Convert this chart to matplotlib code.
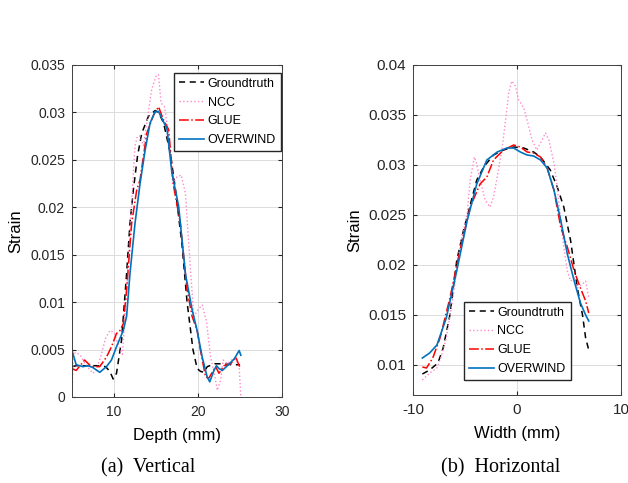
#!/usr/bin/env python3
"""Strain profiles: vertical and horizontal cuts, four methods."""

import matplotlib
matplotlib.use('Agg')
import matplotlib.pyplot as plt

# (a) Vertical profile, depth in mm
gt_depth = [5.0, 5.5, 6.0, 7.0, 8.0, 9.0, 9.5, 9.9, 10.3, 10.9, 11.5, 11.9, 12.3,
            12.8, 13.3, 14.1, 14.9, 15.3, 15.9, 16.7, 17.3, 18.1, 18.7, 19.4,
            19.9, 20.3, 20.7, 21.1, 22.0, 23.0, 24.0, 25.0]
gt_vert = [0.0032, 0.0033, 0.0033, 0.0033, 0.0033, 0.0032, 0.0027, 0.0019, 0.0025,
           0.0060, 0.0130, 0.0183, 0.0218, 0.0254, 0.0278, 0.0296, 0.0302, 0.0300,
           0.0289, 0.0257, 0.0220, 0.0160, 0.0100, 0.0050, 0.0030, 0.0027, 0.0026,
           0.0032, 0.0035, 0.0035, 0.0034, 0.0034]

ncc_depth = [5.0, 5.15, 5.5, 6.0, 6.5, 7.0, 7.5, 8.0, 8.5, 9.0, 9.5, 10.0, 10.5,
             11.0, 11.5, 12.0, 12.5, 12.8, 13.1, 13.5, 14.0, 14.5, 15.0, 15.3,
             15.6, 16.0, 16.3, 16.5, 17.0, 17.5, 18.0, 18.5, 19.0, 19.5, 20.0,
             20.5, 21.0, 21.5, 22.0, 22.3, 22.7, 23.0, 23.5, 24.0, 24.5, 24.9, 25.1]
ncc_vert = [0.0, 0.0045, 0.0047, 0.0044, 0.0036, 0.0030, 0.0025, 0.0031, 0.0045,
            0.0062, 0.0070, 0.0068, 0.0055, 0.0045, 0.0110, 0.0190, 0.0265, 0.0275,
            0.0275, 0.0265, 0.0295, 0.0325, 0.0338, 0.0340, 0.0310, 0.0306, 0.0289,
            0.0275, 0.0225, 0.0232, 0.0234, 0.0215, 0.0148, 0.0085, 0.0092, 0.0097,
            0.0080, 0.0042, 0.0022, 0.0007, 0.0018, 0.0039, 0.0035, 0.0039, 0.0040,
            0.0032, 0.0]

glue_depth = [5.0, 5.5, 6.5, 7.3, 8.3, 9.1, 9.7, 10.3, 10.7, 11.1, 11.5, 12.1,
              12.7, 13.1, 13.9, 14.7, 15.3, 15.9, 16.5, 17.1, 17.9, 18.7, 19.3,
              19.9, 20.3, 20.9, 21.3, 21.7, 22.1, 22.5, 23.1, 23.9, 24.5, 24.9, 25.1]
glue_vert = [0.0030, 0.0028, 0.0039, 0.0032, 0.0032, 0.0042, 0.0053, 0.0067,
             0.0070, 0.0077, 0.0113, 0.0183, 0.0218, 0.0229, 0.0278, 0.0297,
             0.0306, 0.0292, 0.0282, 0.0222, 0.0183, 0.0113, 0.0085, 0.0070,
             0.0049, 0.0021, 0.0020, 0.0026, 0.0032, 0.0025, 0.0033, 0.0035,
             0.0042, 0.0033, 0.0031]

ow_depth = [5.0, 5.5, 6.3, 6.9, 7.5, 8.3, 9.1, 9.7, 10.3, 11.1, 11.5, 11.9, 12.5,
            13.1, 13.7, 14.3, 14.9, 15.3, 15.9, 16.3, 16.9, 17.7, 18.5, 19.3,
            19.9, 20.5, 21.1, 21.4, 21.9, 22.2, 22.5, 22.9, 23.5, 24.3, 24.9, 25.1]
ow_vert = [0.0049, 0.0034, 0.0032, 0.0033, 0.0031, 0.0026, 0.0032, 0.0039, 0.0053,
           0.0070, 0.0085, 0.0130, 0.0183, 0.0225, 0.0260, 0.0289, 0.0301, 0.0301,
           0.0290, 0.0283, 0.0236, 0.0201, 0.0130, 0.0092, 0.0070, 0.0042, 0.0021,
           0.0016, 0.0028, 0.0033, 0.0030, 0.0028, 0.0033, 0.0040, 0.0049, 0.0044]

# (b) Horizontal profile, width in mm
gt_width = [-9.1, -8.4, -7.6, -7.1, -6.45, -5.8, -5.16, -4.5, -3.87, -3.2, -2.26,
            -1.3, -0.32, 0.65, 1.6, 2.26, 3.2, 3.87, 4.5, 5.16, 5.8, 6.3, 6.6, 6.9]
gt_horiz = [0.0091, 0.0095, 0.0102, 0.0117, 0.0150, 0.0204, 0.0234, 0.0260, 0.0285,
            0.0298, 0.0310, 0.0315, 0.0318, 0.0317, 0.0313, 0.0308, 0.0295, 0.0278,
            0.0258, 0.0224, 0.0177, 0.0150, 0.0127, 0.0115]

ncc_width = [-9.1, -8.4, -7.7, -7.3, -6.8, -6.1, -5.5, -4.8, -4.5, -4.1, -3.9, -3.55,
             -3.06, -2.6, -2.26, -1.9, -1.45, -1.1, -0.8, -0.5, -0.16, 0.16, 0.65,
             0.97, 1.45, 1.9, 2.26, 2.74, 3.06, 3.55, 3.87, 4.2, 4.5, 4.84, 5.16,
             5.5, 5.8, 6.3, 6.6, 6.9]
ncc_horiz = [0.0085, 0.0092, 0.0097, 0.0108, 0.0127, 0.0171, 0.0218, 0.0251, 0.0285,
             0.0308, 0.0302, 0.0285, 0.0265, 0.0258, 0.0268, 0.0288, 0.0315, 0.0345,
             0.0372, 0.0384, 0.0379, 0.0365, 0.0357, 0.0345, 0.0325, 0.0315, 0.0322,
             0.0332, 0.0325, 0.0302, 0.0278, 0.0245, 0.0218, 0.0194, 0.0184, 0.0187,
             0.0177, 0.0181, 0.0184, 0.0167]

glue_width = [-9.1, -8.7, -8.1, -7.4, -6.45, -5.5, -4.5, -3.55, -2.9, -2.26, -1.3,
              -0.32, 0.32, 0.97, 1.6, 2.26, 2.9, 3.55, 4.2, 4.84, 5.5, 6.1, 6.6, 6.9]
glue_horiz = [0.0098, 0.0097, 0.0107, 0.0127, 0.0167, 0.0214, 0.0258, 0.0281,
              0.0288, 0.0305, 0.0315, 0.0320, 0.0318, 0.0313, 0.0312, 0.0308,
              0.0297, 0.0275, 0.0238, 0.0218, 0.0194, 0.0177, 0.0164, 0.0152]

ow_width = [-9.1, -8.4, -7.7, -6.8, -5.8, -4.8, -3.87, -2.9, -1.9, -0.97, -0.32,
            0.32, 0.97, 1.6, 2.26, 2.9, 3.55, 4.2, 4.84, 5.5, 6.1, 6.6, 6.9]
ow_horiz = [0.0107, 0.0112, 0.0120, 0.0147, 0.0194, 0.0244, 0.0281, 0.0305, 0.0313,
            0.0317, 0.0317, 0.0313, 0.0310, 0.0309, 0.0305, 0.0297, 0.0275, 0.0245,
            0.0211, 0.0184, 0.0162, 0.0150, 0.0144]

labels = ['Groundtruth', 'NCC', 'GLUE', 'OVERWIND']

plt.rcParams['font.family'] = ['Liberation Sans', 'DejaVu Sans']
plt.rcParams['font.size'] = 10
plt.rcParams['axes.unicode_minus'] = False


def style_axes(ax, labelsize):
    ax.grid(True, color='#dcdcdc', linewidth=0.7)
    ax.set_axisbelow(True)
    ax.tick_params(direction='in', top=True, right=True, length=3, pad=5,
                   colors='#262626', labelsize=labelsize)
    ax.tick_params(axis='x', pad=6)
    for sp in ax.spines.values():
        sp.set_color('#404040')
        sp.set_linewidth(0.7)


def draw(ax, gt, ncc, glue, ow):
    ax.plot(*gt, color='black', linestyle=(0, (4, 3)), linewidth=1.1)
    ax.plot(*ncc, color='#ff88cc', linestyle=':', linewidth=1.0)
    ax.plot(*glue, color='red', linestyle='-.', linewidth=1.1)
    ax.plot(*ow, color='#0072BD', linestyle='-', linewidth=1.2)


def add_legend(ax, **kw):
    ax.legend(labels, fontsize=9, fancybox=False, edgecolor='#262626',
              framealpha=1, handlelength=2.0, handletextpad=0.3,
              borderpad=0.4, labelspacing=0.55, **kw)


fig = plt.figure(figsize=(6.28, 4.83), dpi=100)
W, H = 628, 483
ax1 = fig.add_axes([72 / W, (H - 397) / H, 210 / W, 332 / H])
ax2 = fig.add_axes([413 / W, (H - 395) / H, 208 / W, 330 / H])

draw(ax1, (gt_depth, gt_vert), (ncc_depth, ncc_vert),
     (glue_depth, glue_vert), (ow_depth, ow_vert))
ax1.set_xlim(5, 30)
ax1.set_ylim(0, 0.035)
ax1.set_xticks([10, 20, 30])
ax1.set_yticks([0, 0.005, 0.01, 0.015, 0.02, 0.025, 0.03, 0.035])
ax1.set_yticklabels(['0', '0.005', '0.01', '0.015', '0.02', '0.025', '0.03', '0.035'])
ax1.set_xlabel('Depth (mm)', fontsize=12, labelpad=6)
ax1.set_ylabel('Strain', fontsize=12, labelpad=5)
style_axes(ax1, 10)
add_legend(ax1, loc='upper right', bbox_to_anchor=(0.995, 0.977), borderaxespad=0.0)

draw(ax2, (gt_width, gt_horiz), (ncc_width, ncc_horiz),
     (glue_width, glue_horiz), (ow_width, ow_horiz))
ax2.set_xlim(-10, 10)
ax2.set_ylim(0.007, 0.04)
ax2.set_xticks([-10, 0, 10])
ax2.set_yticks([0.01, 0.015, 0.02, 0.025, 0.03, 0.035, 0.04])
ax2.set_yticklabels(['0.01', '0.015', '0.02', '0.025', '0.03', '0.035', '0.04'])
ax2.set_xlabel('Width (mm)', fontsize=12, labelpad=6)
ax2.set_ylabel('Strain', fontsize=12, labelpad=4)
style_axes(ax2, 11)
add_legend(ax2, loc='lower center', bbox_to_anchor=(0.5, 0.045), borderaxespad=0.0)

fig.text(148 / W, 1 - 468 / H, '(a)  Vertical', ha='center', va='center',
         family='Liberation Serif', fontsize=14.5)
fig.text(501 / W, 1 - 468 / H, '(b)  Horizontal', ha='center', va='center',
         family='Liberation Serif', fontsize=14.5)

fig.savefig('out.png', dpi=100)
